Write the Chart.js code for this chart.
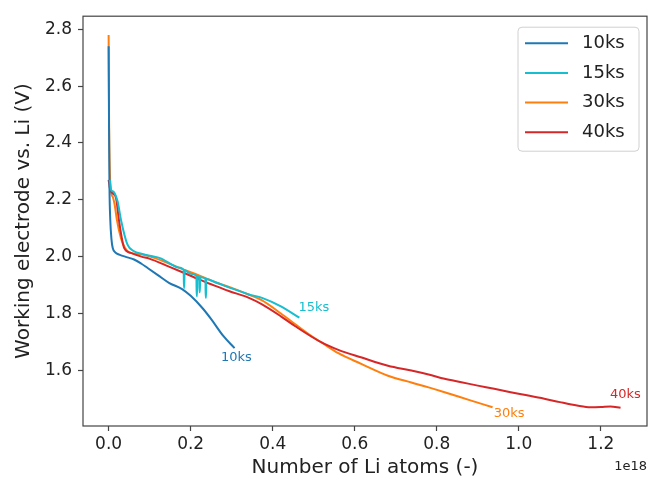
<!DOCTYPE html>
<html>
<head>
<meta charset="utf-8">
<script src="https://cdn.jsdelivr.net/npm/chart.js@4/dist/chart.umd.min.js"></script>
<style>
  html, body { margin: 0; padding: 0; background: #fff; }
  #wrap { width: 651px; height: 480px; }
</style>
</head>
<body>
<div id="wrap"><canvas id="li-chart"></canvas></div>
<script>
// series data, x in units of 1e18 Li atoms, y in volts
var x10ks = [0, 0.001, 0.002, 0.004, 0.007, 0.01, 0.016, 0.026, 0.04, 0.062, 0.08, 0.095, 0.12, 0.147, 0.18, 0.2, 0.228, 0.25, 0.28, 0.307];
var v10ks = [2.74, 2.45, 2.25, 2.13, 2.06, 2.03, 2.015, 2.007, 2.0, 1.99, 1.975, 1.96, 1.935, 1.908, 1.885, 1.862, 1.82, 1.78, 1.72, 1.678];

var x15ks = [0.003, 0.006, 0.01, 0.014, 0.022, 0.03, 0.046, 0.062, 0.08, 0.1, 0.127, 0.147, 0.17,
    0.183, 0.1835, 0.1845, 0.185, 0.2, 0.214, 0.2145, 0.2155, 0.216, 0.221, 0.2215, 0.2225, 0.223,
    0.236, 0.2365, 0.2375, 0.238, 0.26, 0.293, 0.342, 0.374, 0.42, 0.465];
var v15ks = [2.27, 2.235, 2.23, 2.225, 2.194, 2.13, 2.042, 2.019, 2.01, 2.003, 1.994, 1.978, 1.962,
    1.953, 1.89, 1.89, 1.952, 1.94, 1.932, 1.861, 1.861, 1.931, 1.928, 1.875, 1.875, 1.927,
    1.922, 1.855, 1.855, 1.921, 1.91, 1.892, 1.867, 1.855, 1.825, 1.785];

var x30ks = [0, 0.001, 0.003, 0.006, 0.01, 0.015, 0.02, 0.03, 0.04, 0.05, 0.08, 0.1, 0.14, 0.18, 0.22, 0.26, 0.3, 0.342, 0.374, 0.42, 0.455, 0.49, 0.519, 0.56, 0.617, 0.681, 0.738, 0.78, 0.819, 0.88, 0.936];
var v30ks = [2.78, 2.5, 2.3, 2.225, 2.21, 2.18, 2.13, 2.065, 2.03, 2.015, 2.008, 2.001, 1.98, 1.956, 1.934, 1.91, 1.89, 1.866, 1.846, 1.8, 1.762, 1.725, 1.698, 1.66, 1.622, 1.581, 1.557, 1.54, 1.523, 1.495, 1.47];

var x40ks = [0, 0.003, 0.006, 0.012, 0.018, 0.026, 0.038, 0.054, 0.08, 0.099, 0.147, 0.18, 0.22, 0.26, 0.293, 0.342, 0.374, 0.42, 0.455, 0.519, 0.56, 0.617, 0.681, 0.738, 0.78, 0.819, 0.86, 0.9, 0.94, 0.98, 1.02, 1.062, 1.1, 1.142, 1.175, 1.2, 1.223, 1.248];
var v40ks = [2.27, 2.24, 2.229, 2.22, 2.206, 2.12, 2.03, 2.013, 2.0, 1.993, 1.965, 1.945, 1.92, 1.897, 1.879, 1.855, 1.832, 1.79, 1.755, 1.698, 1.672, 1.645, 1.616, 1.599, 1.585, 1.57, 1.558, 1.546, 1.535, 1.523, 1.512, 1.5, 1.488, 1.476, 1.47, 1.471, 1.473, 1.468];

var seriesNames = ["10ks", "15ks", "30ks", "40ks"];
var seriesColors = ["#1f77b4", "#17becf", "#ff7f0e", "#d62728"];
var xTicks = [0.0, 0.2, 0.4, 0.6, 0.8, 1.0, 1.2];
var yTicks = [1.6, 1.8, 2.0, 2.2, 2.4, 2.6, 2.8];

// end-of-curve labels, placed in data units
var labelX = [0.274, 0.463, 0.939, 1.222];
var labelY = [1.644, 1.82, 1.448, 1.513];

Chart.defaults.font.family = "'DejaVu Sans', 'Liberation Sans', sans-serif";
Chart.defaults.color = "#222";

function toPoints(xs, ys) {
    var pts = [];
    for (var i = 0; i < xs.length; i++) {
        pts.push({ x: xs[i], y: ys[i] });
    }
    return pts;
}

var allX = [x10ks, x15ks, x30ks, x40ks];
var allV = [v10ks, v15ks, v30ks, v40ks];
// draw order: orange bottom, then red, blue, cyan on top
var drawOrder = [2, 1, 4, 3];

var datasets = [];
for (var i = 0; i < seriesNames.length; i++) {
    datasets.push({
        label: seriesNames[i],
        data: toPoints(allX[i], allV[i]),
        borderColor: seriesColors[i],
        backgroundColor: seriesColors[i],
        borderWidth: 2,
        pointRadius: 0,
        showLine: true,
        fill: false,
        cubicInterpolationMode: 'monotone',
        order: drawOrder[i]
    });
}

var extras = {
    id: 'extras',
    afterDatasetsDraw: function (chart) {
        var ctx = chart.ctx;
        var area = chart.chartArea;
        var xs = chart.scales.x;
        var ys = chart.scales.y;

        // frame
        ctx.save();
        ctx.strokeStyle = '#444';
        ctx.lineWidth = 1.2;
        ctx.strokeRect(area.left, area.top, area.right - area.left, area.bottom - area.top);

        // curve labels
        ctx.font = "13px 'DejaVu Sans'";
        ctx.textAlign = 'left';
        ctx.textBaseline = 'middle';
        for (var i = 0; i < seriesNames.length; i++) {
            ctx.fillStyle = seriesColors[i];
            ctx.fillText(seriesNames[i], xs.getPixelForValue(labelX[i]), ys.getPixelForValue(labelY[i]));
        }

        // offset text
        ctx.fillStyle = '#222';
        ctx.textAlign = 'right';
        ctx.textBaseline = 'alphabetic';
        ctx.fillText('1e18', area.right, 470);

        // legend box
        var bx = area.right - 129, by = area.top + 11, bw = 121, bh = 124;
        ctx.beginPath();
        ctx.roundRect(bx, by, bw, bh, 4);
        ctx.fillStyle = 'rgba(255,255,255,0.8)';
        ctx.fill();
        ctx.strokeStyle = '#d0d0d0';
        ctx.lineWidth = 1;
        ctx.stroke();
        ctx.font = "18px 'DejaVu Sans'";
        ctx.textAlign = 'left';
        ctx.textBaseline = 'middle';
        for (var j = 0; j < seriesNames.length; j++) {
            var ry = by + 16 + j * 29.7;
            ctx.beginPath();
            ctx.moveTo(bx + 7, ry);
            ctx.lineTo(bx + 50, ry);
            ctx.strokeStyle = seriesColors[j];
            ctx.lineWidth = 2;
            ctx.stroke();
            ctx.fillStyle = '#222';
            ctx.fillText(seriesNames[j], bx + 64, ry);
        }
        ctx.restore();
    }
};

new Chart(document.getElementById("li-chart"), {
    type: 'scatter',
    data: { datasets: datasets },
    plugins: [extras],
    options: {
        responsive: true,
        maintainAspectRatio: false,
        animation: false,
        layout: { padding: { top: 14, right: 4, left: 0, bottom: 0 } },
        plugins: {
            legend: { display: false },
            tooltip: { enabled: false }
        },
        scales: {
            x: {
                type: 'linear',
                min: -0.0625,
                max: 1.3125,
                afterFit: function (scale) { scale.height = 54; },
                afterBuildTicks: function (scale) {
                    scale.ticks = xTicks.map(function (v) { return { value: v }; });
                },
                ticks: {
                    font: { size: 17 },
                    color: '#222',
                    padding: 3,
                    maxRotation: 0,
                    callback: function (v) { return v.toFixed(1); }
                },
                grid: { drawOnChartArea: false, drawTicks: true, tickLength: 5, color: '#444', tickWidth: 1.2 },
                border: { display: false },
                title: {
                    display: true,
                    text: 'Number of Li atoms (-)',
                    font: { size: 20 },
                    color: '#222',
                    padding: { top: 0, bottom: 0 }
                }
            },
            y: {
                type: 'linear',
                min: 1.404,
                max: 2.846,
                afterFit: function (scale) { scale.width = 83; },
                afterBuildTicks: function (scale) {
                    scale.ticks = yTicks.map(function (v) { return { value: v }; });
                },
                ticks: {
                    font: { size: 17 },
                    color: '#222',
                    padding: 6,
                    callback: function (v) { return v.toFixed(1); }
                },
                grid: { drawOnChartArea: false, drawTicks: true, tickLength: 5, color: '#444', tickWidth: 1.2 },
                border: { display: false },
                title: {
                    display: true,
                    text: 'Working electrode vs. Li (V)',
                    font: { size: 20 },
                    color: '#222',
                    padding: { top: 12, bottom: 0 }
                }
            }
        }
    }
});
</script>
</body>
</html>
